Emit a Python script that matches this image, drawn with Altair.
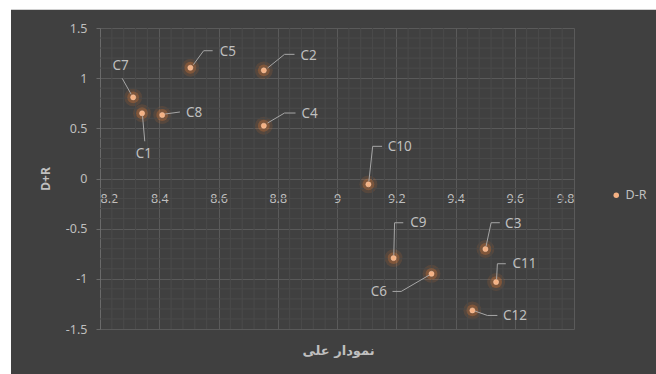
import altair as alt
import pandas as pd

# ---- data ----
names = ["C1", "C2", "C3", "C4", "C5", "C6", "C7", "C8", "C9", "C10", "C11", "C12"]
x_vals = [8.342, 8.753, 9.501, 8.753, 8.505, 9.319, 8.312, 8.410, 9.191, 9.106, 9.537, 9.457]
y_vals = [0.650, 1.078, -0.703, 0.526, 1.104, -0.950, 0.809, 0.633, -0.793, -0.058, -1.032, -1.315]
series_name = "D-R"
x_ticks = [8.2, 8.4, 8.6, 8.8, 9.0, 9.2, 9.4, 9.6, 9.8]
y_ticks = [-1.5, -1.0, -0.5, 0.0, 0.5, 1.0, 1.5]
x_title = "نمودار علی"
y_title = "D+R"

# ---- layout ----
W, H = 474, 301
XMIN, XMAX = 8.2, 9.8
YMIN, YMAX = -1.5, 1.5
PX_X = W / (XMAX - XMIN)
PX_Y = H / (YMAX - YMIN)

# label leader layout in pixel offsets from each point:
# (start, elbow, end, label position, align)
LABEL_LAYOUT = {
    "C7": ((-2, -3), (-11, -19), (-11, -19), (-12.6, -31.6), "center"),
    "C1": ((0.5, 3), (2.7, 28), (2.7, 28), (1.7, 40.7), "center"),
    "C8": ((3, -1), (17.7, -3), (17.7, -3), (23.7, -2.3), "left"),
    "C5": ((3, -3), (13.3, -17), (22.3, -17), (29.3, -16), "left"),
    "C2": ((3.7, -2.3), (20.7, -16), (30.7, -16), (36.7, -14.3), "left"),
    "C4": ((3.7, -2.7), (20.7, -12.7), (31.7, -12.7), (37.7, -11.4), "left"),
    "C10": ((0.5, -3.3), (4.3, -38), (13.7, -38), (19.3, -37.3), "left"),
    "C9": ((0.2, -3), (1, -35.3), (9.7, -35.3), (16.7, -34.7), "left"),
    "C3": ((0.7, -3), (5.7, -26.3), (14.4, -26.3), (19.7, -24.7), "left"),
    "C11": ((0.5, -3), (1.3, -18.3), (9.7, -18.3), (16.3, -18), "left"),
    "C6": ((-2.3, 1.3), (-30.3, 17.6), (-39, 17.6), (-44.6, 18.3), "right"),
    "C12": ((2.7, 0.7), (15, 5), (25, 5), (30.7, 5.7), "left"),
}

FONT = "Noto Sans"
TXT = "#bfbfbf"
BG = "#404040"
MAJOR = "#5a5a5a"
MINOR = "#4a4a4a"

pts = pd.DataFrame({"name": names, "x": x_vals, "y": y_vals, "series": series_name})


def off(xv, yv, d):
    return xv + d[0] / PX_X, yv - d[1] / PX_Y


lead_rows, lab_rows = [], []
for n, xv, yv in zip(names, x_vals, y_vals):
    s, e, t, lp, al = LABEL_LAYOUT[n]
    for i, d in enumerate((s, e, t)):
        lx, ly = off(xv, yv, d)
        lead_rows.append({"name": n, "i": i, "x": lx, "y": ly})
    tx, ty = off(xv, yv, lp)
    lab_rows.append({"name": n, "x": tx, "y": ty, "align": al})
lead = pd.DataFrame(lead_rows)
labs = pd.DataFrame(lab_rows)

# minor gridlines (not at major positions)
x_minor = [round(XMIN + 0.04 * k, 2) for k in range(41)]
x_minor = [v for v in x_minor if all(abs(v - m) > 1e-6 for m in x_ticks)]
y_minor = [round(YMIN + 0.1 * k, 1) for k in range(31)]
y_minor = [v for v in y_minor if all(abs(v - m) > 1e-6 for m in y_ticks)]

xs = alt.Scale(domain=[XMIN, XMAX], nice=False, zero=False)
ys = alt.Scale(domain=[YMIN, YMAX], nice=False, zero=False)

base_x = alt.X(
    "x:Q", scale=xs,
    axis=alt.Axis(
        values=x_ticks, labelExpr="datum.value + ''", orient="bottom", offset=-150.5,
        domain=False, ticks=False, grid=True, gridColor=MAJOR, gridWidth=1,
        labelFont=FONT, labelFontSize=12.5, labelColor=TXT, labelPadding=14,
        title=x_title, titleFont="DejaVu Sans", titleFontSize=13, titleFontWeight="bold",
        titleColor=TXT, titleX=W / 2 + 1, titleY=172, titleBaseline="middle",
        titleAnchor="middle", titleAlign="center",
    ),
)
base_y = alt.Y(
    "y:Q", scale=ys,
    axis=alt.Axis(
        values=y_ticks, labelExpr="datum.value + ''", orient="left",
        domain=True, domainColor="#6a6a6a", ticks=True, tickColor="#6a6a6a", tickSize=4,
        grid=True, gridColor=MAJOR, gridWidth=1,
        labelFont=FONT, labelFontSize=12.5, labelColor=TXT, labelPadding=9,
        title=y_title, titleFont=FONT, titleFontSize=12, titleFontWeight="bold",
        titleColor=TXT, titleX=-55, titleY=H / 2, titleAngle=-90,
        titleBaseline="middle", titleAlign="center",
    ),
)

minor_x = alt.Chart(pd.DataFrame({"x": x_minor})).mark_rule(color=MINOR, strokeWidth=1).encode(
    x=alt.X("x:Q", scale=xs), y=alt.value(0), y2=alt.value(H)
)
minor_y = alt.Chart(pd.DataFrame({"y": y_minor})).mark_rule(color=MINOR, strokeWidth=1).encode(
    y=alt.Y("y:Q", scale=ys), x=alt.value(0), x2=alt.value(W)
)

glow1 = alt.Chart(pts).mark_circle(size=320, color="#ED7D31", opacity=0.13).encode(x=base_x, y=base_y)
glow2 = alt.Chart(pts).mark_circle(size=140, color="#ED7D31", opacity=0.28).encode(x="x:Q", y="y:Q")
core = alt.Chart(pts).mark_circle(size=26, opacity=1, stroke="#F8CBAD", strokeWidth=0.5).encode(
    x="x:Q", y="y:Q",
    color=alt.Color(
        "series:N", scale=alt.Scale(domain=[series_name], range=["#F4B183"]),
        legend=alt.Legend(
            title=None, orient="none", legendX=510, legendY=161, padding=0,
            symbolType="circle", symbolSize=30, symbolStrokeWidth=0,
            labelFont=FONT, labelFontSize=12.5, labelColor=TXT, labelOffset=3,
        ),
    ),
)

leaders = alt.Chart(lead).mark_line(color="#a6a6a6", strokeWidth=1).encode(
    x="x:Q", y="y:Q", detail="name:N", order="i:Q"
)

text_layers = []
for al in ["left", "center", "right"]:
    sub = labs[labs["align"] == al]
    text_layers.append(
        alt.Chart(sub).mark_text(
            align=al, baseline="middle", font=FONT, fontSize=13.5, color=TXT
        ).encode(x="x:Q", y="y:Q", text="name:N")
    )

white_top = alt.Chart(pd.DataFrame({"a": [0]})).mark_rect(color="white").encode(
    x=alt.value(-100), x2=alt.value(W + 82), y=alt.value(-28), y2=alt.value(-18.5)
)
top_line = alt.Chart(pd.DataFrame({"a": [0]})).mark_rule(color="#d0d0d0", strokeWidth=1).encode(
    x=alt.value(-89), x2=alt.value(W + 82), y=alt.value(-18.5)
)
white_left = alt.Chart(pd.DataFrame({"a": [0]})).mark_rect(color="white").encode(
    x=alt.value(-100), x2=alt.value(-89), y=alt.value(-28), y2=alt.value(H + 45)
)

chart = alt.layer(
    glow1, minor_x, minor_y, glow2, leaders, core, *text_layers,
    white_top, top_line, white_left,
).properties(
    width=W, height=H, background=BG,
    padding={"left": 100, "top": 28, "right": 82, "bottom": 45},
    autosize=alt.AutoSizeParams(type="none"),
).configure_view(stroke=None)

chart.save("out.html", embed_options={"renderer": "svg", "actions": False})
